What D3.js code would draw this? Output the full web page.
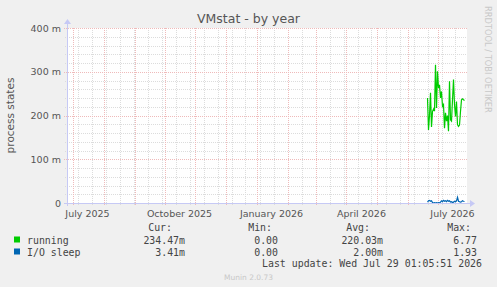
<!DOCTYPE html>
<html>
<head>
<meta charset="utf-8">
<script src="https://cdn.jsdelivr.net/npm/d3@7/dist/d3.min.js"></script>
<style>
  html, body { margin: 0; padding: 0; background: #f0f0f0; }
  svg { display: block; }
</style>
</head>
<body>
<svg id="vmstat"></svg>
<script>
// daily averages (in milli units), first sample on this day
const seriesStart = '2026-06-21';
const running = [240, 167, 200, 252, 174, 209, 215, 210, 316, 217, 301, 263, 270, 240, 255, 221, 225, 171, 206,
  187, 200, 164, 278, 190, 187, 236, 282, 225, 198, 232, 179, 175, 178, 209, 236, 238, 236, 234.47];
const ioSleep = [2, 5, 6, 4, 5, 1, 0, 1, 0, 1, 0, 1, 0, 2, 5, 3, 6, 4, 5, 3, 6, 4, 5, 2, 3, 1, 2, 4, 3, 5, 13,
  4, 3, 2, 3, 5, 4, 3.41];

const yTicks = [0, 100, 200, 300, 400];
const yTickLabels = ['0', '100 m', '200 m', '300 m', '400 m'];
const xLabelMonths = ['2025-07-01', '2025-10-01', '2026-01-01', '2026-04-01', '2026-07-01'];
const xLabels = ['July 2025', 'October 2025', 'January 2026', 'April 2026', 'July 2026'];

const legendNames = ['running', 'I/O sleep'];
const legendColors = ['#00cc00', '#0066b3'];
const curValues = ['234.47m', '3.41m'];
const minValues = ['0.00', '0.00'];
const avgValues = ['220.03m', '2.00m'];
const maxValues = ['6.77', '1.93'];

const W = 497, H = 287;
const plotLeft = 67, plotTop = 28, plotW = 400, plotH = 175;

const svg = d3.select('#vmstat')
    .attr('width', W)
    .attr('height', H)
    .style('font-family', '"DejaVu Sans", sans-serif');

svg.append('rect').attr('width', W).attr('height', H).attr('fill', '#f0f0f0');

// time range shown: 400 days
const tStart = new Date(Date.UTC(2025, 5, 25, 12));
const tEnd = d3.utcDay.offset(tStart, 400);

const x = d3.scaleUtc().domain([tStart, tEnd]).range([plotLeft, plotLeft + plotW]);
const y = d3.scaleLinear().domain([0, 400]).range([plotTop + plotH, plotTop]);

// plot background
svg.append('rect')
    .attr('x', plotLeft).attr('y', plotTop)
    .attr('width', plotW).attr('height', plotH)
    .attr('fill', '#ffffff');

const grid = svg.append('g').attr('shape-rendering', 'crispEdges');
const minorColor = '#dcdcdc';
const majorColor = '#efbaba';

// minor vertical grid: every second sunday
const refSunday = Date.UTC(2025, 7, 17);
const sundays = d3.utcSunday.range(tStart, tEnd)
    .filter((d) => Math.round((d - refSunday) / (7 * 864e5)) % 2 === 0);
// horizontal minor grid every 20m
const yMinor = d3.range(20, 400, 20).filter((v) => v % 100 !== 0);

grid.selectAll('.vminor')
    .data(sundays).enter().append('line')
    .attr('x1', (d) => Math.round(x(d)) + 0.5).attr('x2', (d) => Math.round(x(d)) + 0.5)
    .attr('y1', plotTop).attr('y2', plotTop + plotH + 2)
    .attr('stroke', minorColor).attr('stroke-dasharray', '1,1');

grid.selectAll('.hminor')
    .data(yMinor).enter().append('line')
    .attr('x1', plotLeft - 2).attr('x2', plotLeft + plotW)
    .attr('y1', (v) => Math.round(y(v)) + 0.5).attr('y2', (v) => Math.round(y(v)) + 0.5)
    .attr('stroke', minorColor).attr('stroke-dasharray', '1,1');

// major grid: months and 100m
const months = d3.utcMonth.range(tStart, tEnd);
grid.selectAll('.vmajor')
    .data(months).enter().append('line')
    .attr('x1', (d) => Math.round(x(d)) + 0.5).attr('x2', (d) => Math.round(x(d)) + 0.5)
    .attr('y1', plotTop).attr('y2', plotTop + plotH + 3)
    .attr('stroke', majorColor).attr('stroke-dasharray', '1,1');

grid.selectAll('.hmajor')
    .data(yTicks.filter((v) => v > 0)).enter().append('line')
    .attr('x1', plotLeft - 3).attr('x2', plotLeft + plotW)
    .attr('y1', (v) => Math.round(y(v)) + 0.5).attr('y2', (v) => Math.round(y(v)) + 0.5)
    .attr('stroke', majorColor).attr('stroke-dasharray', '1,1');

// y labels
svg.selectAll('.ylab')
    .data(yTicks).enter().append('text')
    .attr('x', plotLeft - 6)
    .attr('y', (v) => y(v) + 3.5)
    .attr('text-anchor', 'end')
    .attr('font-size', '9.5px')
    .attr('fill', '#555')
    .text((v, i) => yTickLabels[i]);

// x labels, centred half a month after the month start
svg.selectAll('.xlab')
    .data(xLabelMonths).enter().append('text')
    .attr('x', (d) => x(d3.utcDay.offset(new Date(d + 'T00:00:00Z'), 15)))
    .attr('y', plotTop + plotH + 14)
    .attr('text-anchor', 'middle')
    .attr('font-size', '9.5px')
    .attr('fill', '#555')
    .text((d, i) => xLabels[i]);

// series
const dates = running.map((v, i) => d3.utcDay.offset(new Date(seriesStart + 'T00:00:00Z'), i));

const line = d3.line()
    .x((v, i) => x(dates[i]))
    .y((v) => y(v));

svg.append('path')
    .datum(ioSleep)
    .attr('d', line)
    .attr('fill', 'none')
    .attr('stroke', legendColors[1])
    .attr('stroke-width', 1.2);

svg.append('path')
    .datum(running)
    .attr('d', line)
    .attr('fill', 'none')
    .attr('stroke', legendColors[0])
    .attr('stroke-width', 1.2);

// axes with arrows
const axisColor = '#c6c9f5';
svg.append('line')
    .attr('x1', plotLeft - 3).attr('x2', plotLeft + plotW + 3)
    .attr('y1', plotTop + plotH + 0.5).attr('y2', plotTop + plotH + 0.5)
    .attr('stroke', axisColor).attr('shape-rendering', 'crispEdges');
svg.append('line')
    .attr('x1', plotLeft + 0.5).attr('x2', plotLeft + 0.5)
    .attr('y1', plotTop + plotH + 3).attr('y2', plotTop - 4)
    .attr('stroke', axisColor).attr('shape-rendering', 'crispEdges');
svg.append('path')
    .attr('d', `M${plotLeft + plotW + 3},${plotTop + plotH - 3}L${plotLeft + plotW + 8},${plotTop + plotH + 0.5}L${plotLeft + plotW + 3},${plotTop + plotH + 4}Z`)
    .attr('fill', axisColor);
svg.append('path')
    .attr('d', `M${plotLeft - 3},${plotTop - 4}L${plotLeft + 0.5},${plotTop - 9}L${plotLeft + 4},${plotTop - 4}Z`)
    .attr('fill', axisColor);

// title
svg.append('text')
    .attr('x', 248.5).attr('y', 23)
    .attr('text-anchor', 'middle')
    .attr('font-size', '12.5px')
    .attr('fill', '#555')
    .text('VMstat - by year');

// vertical y label
svg.append('text')
    .attr('transform', `translate(14, ${plotTop + plotH / 2}) rotate(-90)`)
    .attr('text-anchor', 'middle')
    .attr('font-size', '10.5px')
    .attr('fill', '#555')
    .text('process states');

// rrdtool watermark
svg.append('text')
    .attr('transform', 'translate(485, 6) rotate(90)')
    .attr('text-anchor', 'start')
    .attr('font-size', '8.3px')
    .attr('fill', '#c8c8c8')
    .text('RRDTOOL / TOBI OETIKER');

// legend
const legend = svg.append('g')
    .style('font-family', '"DejaVu Sans Mono", monospace')
    .attr('font-size', '9.9px')
    .attr('fill', '#444');

const cols = [
  { head: 'Cur:', right: 172, vright: 185, vals: curValues },
  { head: 'Min:', right: 272, vright: 278, vals: minValues },
  { head: 'Avg:', right: 370, vright: 383, vals: avgValues },
  { head: 'Max:', right: 471, vright: 477, vals: maxValues }
];
const rowY = [243.5, 255.5];

cols.forEach((c) => {
  legend.append('text').attr('x', c.right).attr('y', 230.5)
      .attr('text-anchor', 'end').text(c.head);
  c.vals.forEach((v, i) => {
    legend.append('text').attr('x', c.vright).attr('y', rowY[i])
        .attr('text-anchor', 'end').text(v);
  });
});

legendNames.forEach((name, i) => {
  legend.append('rect')
      .attr('x', 14).attr('y', rowY[i] - 7)
      .attr('width', 6).attr('height', 6)
      .attr('fill', legendColors[i]);
  legend.append('text').attr('x', 27).attr('y', rowY[i]).text(name);
});

legend.append('text')
    .attr('x', 482).attr('y', 266.5)
    .attr('text-anchor', 'end')
    .text('Last update: Wed Jul 29 01:05:51 2026');

svg.append('text')
    .attr('x', 248.5).attr('y', 280)
    .attr('text-anchor', 'middle')
    .attr('font-size', '7.5px')
    .attr('fill', '#c8c8c8')
    .text('Munin 2.0.73');
</script>
</body>
</html>
